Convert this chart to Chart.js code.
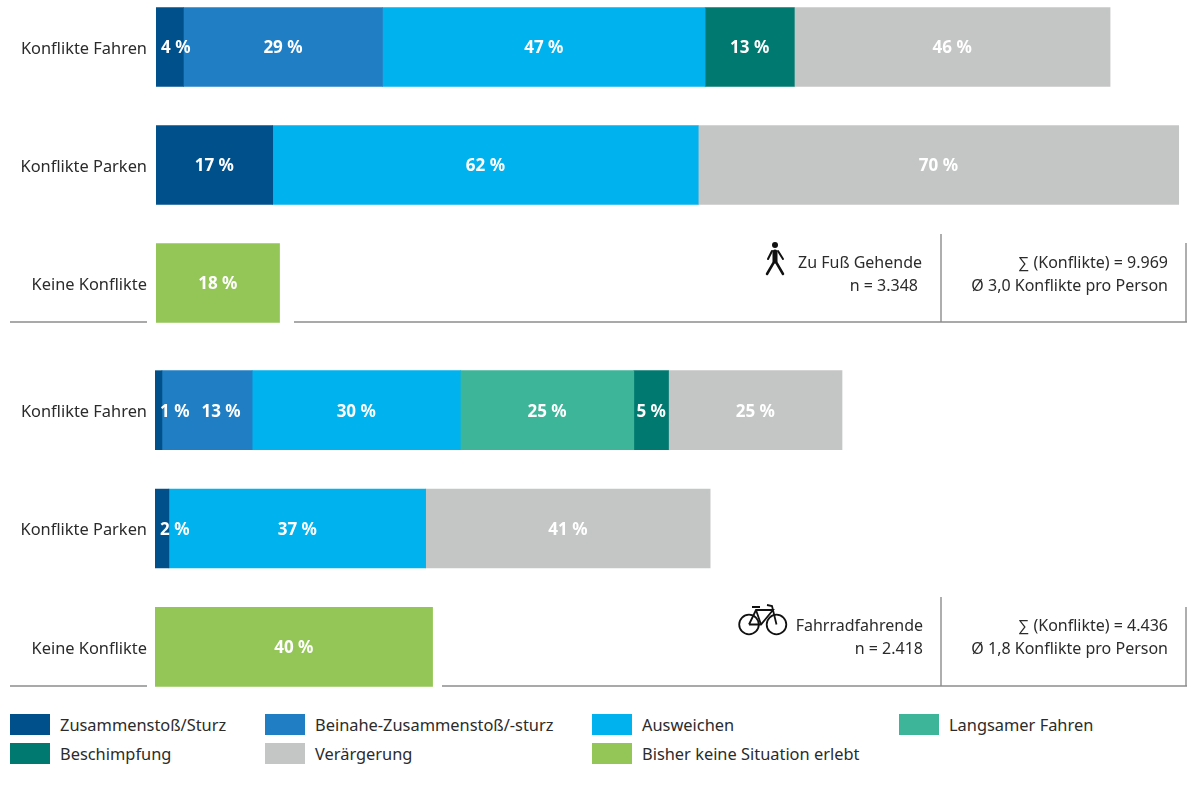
<!DOCTYPE html>
<html lang="de">
<head>
<meta charset="utf-8">
<title>Konflikte</title>
<script src="https://cdn.jsdelivr.net/npm/chart.js@4"></script>
<style>
  html, body { margin: 0; padding: 0; background: #fff; overflow: hidden; }
  body { width: 1189px; height: 789px; position: relative; font-family: "Noto Sans", sans-serif; }
  .panel { position: absolute; left: 0; width: 1189px; }
  #panelTop { top: -12px; height: 354px; }
  #panelBottom { top: 351px; height: 355px; }
  .key { position: absolute; width: 40px; height: 21px; }
  .keyText { position: absolute; font-size: 16.4px; line-height: 21px; color: #2b2b2b; white-space: nowrap; }
</style>
</head>
<body>
<div class="panel" id="panelTop"><canvas id="chartTop"></canvas></div>
<div class="panel" id="panelBottom"><canvas id="chartBottom"></canvas></div>
<div id="legend"></div>
<script>
// Daten
const categories = ['Konflikte Fahren', 'Konflikte Parken', 'Keine Konflikte'];
const seriesNames = ['Zusammenstoß/Sturz', 'Beinahe-Zusammenstoß/-sturz', 'Ausweichen', 'Langsamer Fahren', 'Beschimpfung', 'Verärgerung', 'Bisher keine Situation erlebt'];
const seriesColors = ['#00508c', '#207fc4', '#00b2ee', '#3cb598', '#007a70', '#c4c6c5', '#94c657'];

// Zu Fuß Gehende
const walkCrash = [4, 17, null];
const walkNearCrash = [29, null, null];
const walkEvade = [47, 62, null];
const walkSlower = [null, null, null];
const walkInsult = [13, null, null];
const walkAnnoyed = [46, 70, null];
const walkNone = [null, null, 18];

// Fahrradfahrende
const bikeCrash = [1, 2, null];
const bikeNearCrash = [13, null, null];
const bikeEvade = [30, 37, null];
const bikeSlower = [25, null, null];
const bikeInsult = [5, null, null];
const bikeAnnoyed = [25, 41, null];
const bikeNone = [null, null, 40];

const FONT = '"Noto Sans", sans-serif';
const TEXT = '#2b2b2b';
const RULE = '#8c8c8c';

function drawPedestrian(ctx, top) {
    ctx.save();
    ctx.translate(0, -top);
    ctx.strokeStyle = '#111';
    ctx.fillStyle = '#111';
    ctx.lineCap = 'round';
    ctx.beginPath();
    ctx.arc(775, 245, 3, 0, Math.PI * 2);
    ctx.fill();
    ctx.lineWidth = 5;
    ctx.beginPath(); ctx.moveTo(775, 252); ctx.lineTo(775, 261); ctx.stroke();
    ctx.lineWidth = 2;
    ctx.beginPath(); ctx.moveTo(772, 251); ctx.lineTo(768, 259); ctx.stroke();
    ctx.beginPath(); ctx.moveTo(778, 251); ctx.lineTo(783, 259); ctx.stroke();
    ctx.lineWidth = 2.5;
    ctx.beginPath(); ctx.moveTo(774, 262); ctx.lineTo(767, 274); ctx.stroke();
    ctx.beginPath(); ctx.moveTo(776, 262); ctx.lineTo(783, 274); ctx.stroke();
    ctx.restore();
}

function drawBike(ctx, top) {
    ctx.save();
    ctx.translate(0, -top);
    ctx.strokeStyle = '#111';
    ctx.lineWidth = 1.8;
    ctx.beginPath(); ctx.arc(749, 624.5, 9.8, 0, Math.PI * 2); ctx.stroke();
    ctx.beginPath(); ctx.arc(776.5, 624.5, 9.8, 0, Math.PI * 2); ctx.stroke();
    ctx.beginPath();
    ctx.moveTo(749, 624.5); ctx.lineTo(756, 610); ctx.lineTo(773, 610); ctx.lineTo(761, 624.5); ctx.lineTo(749, 624.5);
    ctx.moveTo(756, 610); ctx.lineTo(761, 624.5);
    ctx.moveTo(776.5, 624.5); ctx.lineTo(772, 606); ctx.lineTo(767, 605);
    ctx.moveTo(752, 607); ctx.lineTo(760, 607);
    ctx.stroke();
    ctx.restore();
}

// Panel-Deko: Linien, Beschriftung, Symbole
const panelTop = {
    top: -12,
    axisWidth: 156,
    xMax: 150.5,
    lines: [[10, 322, 147, 322], [294, 322, 1187, 322], [941, 234, 941, 322], [1186, 243, 1186, 322]],
    texts: [
        ['Zu Fuß Gehende', 922, 263],
        ['n = 3.348', 918, 286],
        ['∑ (Konflikte) = 9.969', 1168, 263],
        ['Ø 3,0 Konflikte pro Person', 1168, 286]
    ],
    icon: drawPedestrian
};
const panelBottom = {
    top: 351,
    axisWidth: 155,
    xMax: 149,
    lines: [[10, 686, 147, 686], [442, 686, 1187, 686], [941, 597, 941, 686], [1186, 607, 1186, 686]],
    texts: [
        ['Fahrradfahrende', 923, 626],
        ['n = 2.418', 923, 649],
        ['∑ (Konflikte) = 4.436', 1168, 626],
        ['Ø 1,8 Konflikte pro Person', 1168, 649]
    ],
    icon: drawBike
};

const decorPlugin = {
    id: 'decor',
    afterDatasetsDraw(chart, args, opts) {
        const ctx = chart.ctx;
        const p = opts.panel;
        ctx.save();
        ctx.strokeStyle = RULE;
        ctx.lineWidth = 1.4;
        p.lines.forEach(l => {
            ctx.beginPath();
            ctx.moveTo(l[0], l[1] - p.top);
            ctx.lineTo(l[2], l[3] - p.top);
            ctx.stroke();
        });
        ctx.fillStyle = TEXT;
        ctx.font = '16px ' + FONT;
        ctx.textAlign = 'right';
        ctx.textBaseline = 'middle';
        p.texts.forEach(t => ctx.fillText(t[0], t[1], t[2] - p.top));
        ctx.restore();
        p.icon(ctx, p.top);
    }
};

// Prozentwerte in die Balken schreiben
const valueLabels = {
    id: 'valueLabels',
    afterDatasetsDraw(chart) {
        const ctx = chart.ctx;
        ctx.save();
        ctx.font = 'bold 17px ' + FONT;
        ctx.fillStyle = '#fff';
        ctx.textBaseline = 'middle';
        ctx.textAlign = 'left';
        const lastEnd = {};
        chart.data.datasets.forEach((ds, i) => {
            chart.getDatasetMeta(i).data.forEach((bar, j) => {
                const v = ds.data[j];
                if (v === null) return;
                const txt = v + ' %';
                const w = ctx.measureText(txt).width;
                // schmale Segmente: Text links am Balken statt mittig
                let x = w > bar.x - bar.base ? bar.base + 5 : (bar.x + bar.base - w) / 2;
                // nicht in das vorige Label laufen
                if (lastEnd[j] && x < lastEnd[j] + 12) x = lastEnd[j] + 12;
                ctx.fillText(txt, x, bar.y + 1.5);
                lastEnd[j] = x + w;
            });
        });
        ctx.restore();
    }
};

function makeChart(id, series, panel) {
    return new Chart(document.getElementById(id), {
        type: 'bar',
        data: {
            labels: categories,
            datasets: series.map((data, i) => ({
                label: seriesNames[i],
                data: data,
                backgroundColor: seriesColors[i],
                borderWidth: 0,
                barThickness: 79
            }))
        },
        options: {
            indexAxis: 'y',
            animation: false,
            responsive: true,
            maintainAspectRatio: false,
            layout: { padding: 0 },
            plugins: {
                legend: { display: false },
                tooltip: { enabled: false },
                decor: { panel: panel }
            },
            scales: {
                x: { stacked: true, display: false, min: 0, max: panel.xMax },
                y: {
                    stacked: true,
                    grid: { display: false, drawTicks: false },
                    border: { display: false },
                    ticks: { color: TEXT, padding: panel.axisWidth - 147, labelOffset: 2, font: { family: FONT, size: 16.4 } },
                    afterFit(axis) {
                        axis.width = panel.axisWidth;
                        // kein Zusatzrand oben/unten, Zeilen sollen die volle Hoehe nutzen
                        axis.paddingTop = 0;
                        axis.paddingBottom = 0;
                    }
                }
            }
        },
        plugins: [valueLabels, decorPlugin]
    });
}

makeChart('chartTop', [walkCrash, walkNearCrash, walkEvade, walkSlower, walkInsult, walkAnnoyed, walkNone], panelTop);
makeChart('chartBottom', [bikeCrash, bikeNearCrash, bikeEvade, bikeSlower, bikeInsult, bikeAnnoyed, bikeNone], panelBottom);

// Legende
const legendSlots = [[10, 714], [265, 714], [592, 714], [899, 714], [10, 743], [265, 743], [592, 743]];
const legend = document.getElementById('legend');
seriesNames.forEach((name, i) => {
    const k = document.createElement('div');
    k.className = 'key';
    k.style.left = legendSlots[i][0] + 'px';
    k.style.top = legendSlots[i][1] + 'px';
    k.style.background = seriesColors[i];
    legend.appendChild(k);
    const t = document.createElement('div');
    t.className = 'keyText';
    t.style.left = (legendSlots[i][0] + 50) + 'px';
    t.style.top = (legendSlots[i][1] - 0.5) + 'px';
    t.textContent = name;
    legend.appendChild(t);
});
</script>
</body>
</html>
